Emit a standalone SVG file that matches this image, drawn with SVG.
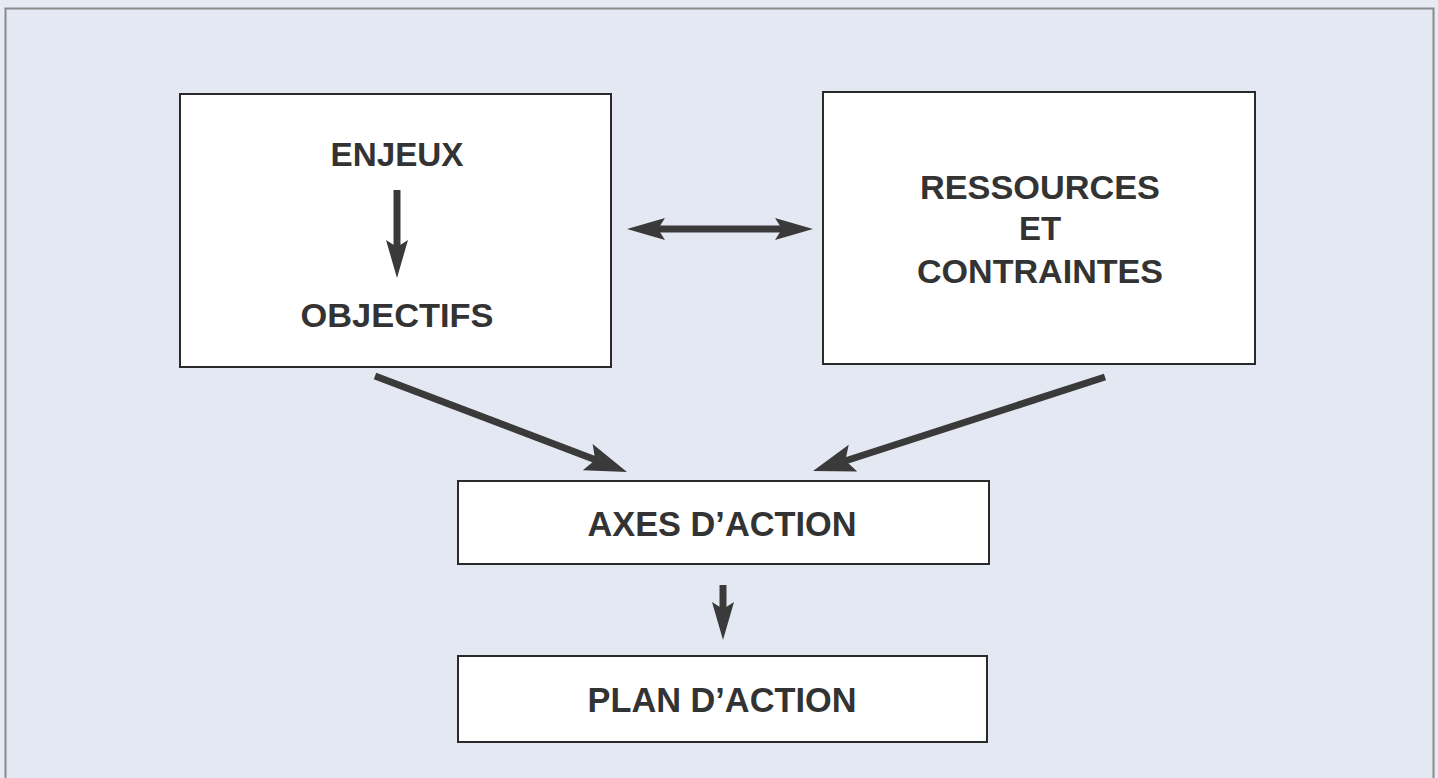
<svg xmlns="http://www.w3.org/2000/svg" width="1438" height="778" viewBox="0 0 1438 778">
<style>
.box{fill:#ffffff;stroke:#2a2a2a;stroke-width:2}
.t{font-family:"Liberation Sans",Arial,sans-serif;font-weight:bold;fill:#333333;text-anchor:middle}
.big{font-size:33px}
.nar{font-size:35px}
.ln{stroke:#3a3a3a;stroke-width:7;fill:none}
.hd{fill:#3a3a3a}
</style>
<defs>
<path id="h1" class="hd" d="M0,0 L-38,-11 L-31,0 L-38,11 Z"/>
<path id="h2" class="hd" d="M0,0 L-42,-14 L-34,0 L-42,14 Z"/>
</defs>
<rect x="0" y="0" width="1438" height="778" fill="#e6eaf3"/>
<rect x="5.5" y="8.5" width="1428" height="780" fill="#e4e8f2" stroke="#8a8a8a" stroke-width="2"/>
<g id="enjeux-objectifs">
<rect class="box" x="180" y="94" width="431" height="273"/>
<text class="t big" x="397" y="166" textLength="133" lengthAdjust="spacingAndGlyphs">ENJEUX</text>
<text class="t big" x="397" y="327" textLength="193" lengthAdjust="spacingAndGlyphs">OBJECTIFS</text>
<line class="ln" x1="397" y1="190" x2="397" y2="250"/>
<use href="#h1" transform="translate(397,278) rotate(90)"/>
</g>
<g id="ressources">
<rect class="box" x="823" y="92" width="432" height="272"/>
<text class="t big" x="1040" y="199" textLength="240" lengthAdjust="spacingAndGlyphs">RESSOURCES</text>
<text class="t big" x="1040" y="240">ET</text>
<text class="t big" x="1040" y="283" textLength="246" lengthAdjust="spacingAndGlyphs">CONTRAINTES</text>
</g>
<g id="axes">
<rect class="box" x="458" y="481" width="531" height="83"/>
<text class="t nar" x="722" y="536" textLength="269" lengthAdjust="spacingAndGlyphs">AXES D’ACTION</text>
</g>
<g id="plan">
<rect class="box" x="458" y="656" width="529" height="86"/>
<text class="t nar" x="722" y="712" textLength="269" lengthAdjust="spacingAndGlyphs">PLAN D’ACTION</text>
</g>
<g id="connectors">
<line class="ln" x1="655" y1="229" x2="785" y2="229"/>
<use href="#h1" transform="translate(627,229) rotate(180)"/>
<use href="#h1" transform="translate(813,229)"/>
<line class="ln" x1="375" y1="376" x2="596" y2="460"/>
<use href="#h2" transform="translate(627,472) rotate(20.7)"/>
<line class="ln" x1="1105" y1="377" x2="845" y2="461"/>
<use href="#h2" transform="translate(813,471) rotate(162.2)"/>
<line class="ln" x1="723" y1="585" x2="723" y2="612"/>
<use href="#h1" transform="translate(723,640) rotate(90)"/>
</g>
</svg>
